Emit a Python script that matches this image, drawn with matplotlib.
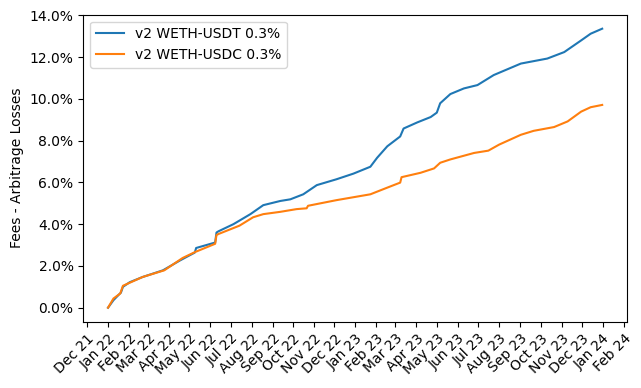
#!/usr/bin/env python3
"""Cumulative fees minus arbitrage losses for two v2 WETH pools."""

import matplotlib

matplotlib.use("Agg")

import matplotlib.dates as mdates
import matplotlib.pyplot as plt
import pandas as pd
from matplotlib.ticker import PercentFormatter

# values, in percent
usdt_dates = [
    "2022-01-01", "2022-01-09", "2022-01-18", "2022-01-20", "2022-01-23",
    "2022-02-02", "2022-02-21", "2022-03-23", "2022-04-17", "2022-05-09",
    "2022-05-11", "2022-06-08", "2022-06-10", "2022-06-13", "2022-07-05",
    "2022-07-30", "2022-08-18", "2022-09-12", "2022-09-27", "2022-10-16",
    "2022-11-05", "2022-12-04", "2022-12-29", "2023-01-23", "2023-02-02",
    "2023-02-17", "2023-03-08", "2023-03-13", "2023-04-02", "2023-04-22",
    "2023-05-01", "2023-05-06", "2023-05-21", "2023-06-10", "2023-06-30",
    "2023-07-24", "2023-09-02", "2023-10-11", "2023-11-05", "2023-11-30",
    "2023-12-14", "2023-12-31",
]
usdt_values = [
    0.0, 0.36, 0.66, 0.72, 1.0,
    1.22, 1.47, 1.79, 2.26, 2.64,
    2.86, 3.12, 3.60, 3.66, 4.0,
    4.48, 4.91, 5.11, 5.19, 5.43,
    5.87, 6.15, 6.42, 6.75, 7.18,
    7.73, 8.20, 8.58, 8.87, 9.13,
    9.34, 9.79, 10.23, 10.50, 10.66,
    11.14, 11.69, 11.93, 12.24, 12.80,
    13.12, 13.36,
]

usdc_dates = [
    "2022-01-01", "2022-01-09", "2022-01-19", "2022-01-23", "2022-02-21",
    "2022-03-25", "2022-04-21", "2022-05-09", "2022-06-08", "2022-06-10",
    "2022-06-13", "2022-07-14", "2022-08-03", "2022-08-18", "2022-09-12",
    "2022-10-06", "2022-10-21", "2022-10-23", "2022-12-04", "2023-01-23",
    "2023-02-17", "2023-03-08", "2023-03-10", "2023-04-07", "2023-04-27",
    "2023-05-06", "2023-05-21", "2023-06-25", "2023-07-16", "2023-08-01",
    "2023-09-02", "2023-09-21", "2023-10-21", "2023-11-10", "2023-11-30",
    "2023-12-14", "2023-12-31",
]
usdc_values = [
    0.0, 0.44, 0.68, 1.05, 1.47,
    1.79, 2.38, 2.66, 3.06, 3.48,
    3.53, 3.93, 4.33, 4.48, 4.59,
    4.72, 4.76, 4.88, 5.15, 5.43,
    5.75, 5.99, 6.25, 6.46, 6.67,
    6.94, 7.10, 7.41, 7.52, 7.81,
    8.28, 8.47, 8.65, 8.92, 9.39,
    9.60, 9.71,
]


def main() -> None:
    fig, ax = plt.subplots(figsize=(6.41, 3.88), dpi=100)

    ax.plot(pd.to_datetime(usdt_dates), usdt_values, label="v2 WETH-USDT 0.3%")
    ax.plot(pd.to_datetime(usdc_dates), usdc_values, label="v2 WETH-USDC 0.3%")

    ax.set_ylabel("Fees - Arbitrage Losses")
    ax.yaxis.set_major_formatter(PercentFormatter(xmax=100, decimals=1))

    ax.xaxis.set_major_locator(mdates.MonthLocator())
    ax.xaxis.set_major_formatter(mdates.DateFormatter("%b %y"))
    plt.setp(ax.get_xticklabels(), rotation=45, ha="right", rotation_mode="anchor")

    ax.legend(loc="upper left")

    fig.subplots_adjust(left=0.13, right=0.978, top=0.962, bottom=0.171)
    fig.savefig("out.png")
    plt.close(fig)


if __name__ == "__main__":
    main()
